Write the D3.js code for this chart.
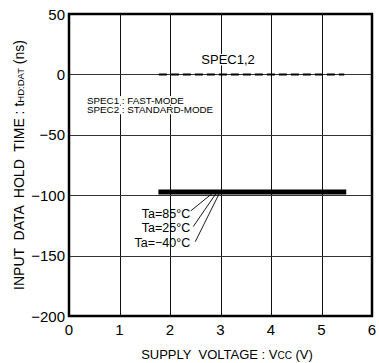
<!DOCTYPE html>
<html>
<head>
<meta charset="utf-8">
<script src="https://cdn.jsdelivr.net/npm/d3@7"></script>
<style>
  body { margin: 0; background: #fff; }
  text { font-family: "Liberation Sans", Arial, sans-serif; fill: #000; }
</style>
</head>
<body>
<svg width="379" height="363"></svg>
<script>
// data
const xTicks = [0, 1, 2, 3, 4, 5, 6];
const yTicks = [50, 0, -50, -100, -150, -200];
const specX = [1.78, 5.45];
const specY = [0, 0];
const holdX = [1.77, 5.49];
const holdY = [-97.4, -97.4];
const tempLabels = ['Ta=85°C', 'Ta=25°C', 'Ta=−40°C'];
const tempLabelY = [-118.5, -130.8, -143.2];
const leaderFrom = [[2.41, -113], [2.46, -126], [2.5, -138.5]];
const leaderTo = [[2.87, -97.4], [2.93, -97.4], [2.99, -97.4]];

const svg = d3.select('svg');
const m = {left: 69, right: 372, top: 14, bottom: 316};

const x = d3.scaleLinear().domain([0, 6]).range([m.left, m.right]);
const y = d3.scaleLinear().domain([-200, 50]).range([m.bottom, m.top]);

// grid
svg.append('g').selectAll('line').data(xTicks.slice(1, -1))
  .enter().append('line')
    .attr('x1', d => Math.round(x(d)) + 0.5).attr('x2', d => Math.round(x(d)) + 0.5)
    .attr('y1', m.top).attr('y2', m.bottom)
    .attr('stroke', '#111').attr('stroke-width', 1);
svg.append('g').selectAll('line').data(yTicks.slice(1, -1))
  .enter().append('line')
    .attr('y1', d => Math.round(y(d)) + 0.5).attr('y2', d => Math.round(y(d)) + 0.5)
    .attr('x1', m.left).attr('x2', m.right)
    .attr('stroke', '#333').attr('stroke-width', 1);

// frame
svg.append('rect')
  .attr('x', m.left).attr('y', m.top)
  .attr('width', m.right - m.left).attr('height', m.bottom - m.top)
  .attr('fill', 'none').attr('stroke', '#000').attr('stroke-width', 2.5);

// tick labels
svg.append('g').selectAll('text').data(yTicks)
  .enter().append('text')
    .attr('x', m.left - 4).attr('y', d => y(d) + 5.5)
    .attr('text-anchor', 'end').attr('font-size', 15)
    .text(d => d < 0 ? '−' + Math.abs(d) : d);
svg.append('g').selectAll('text').data(xTicks)
  .enter().append('text')
    .attr('x', d => x(d)).attr('y', 335)
    .attr('text-anchor', 'middle').attr('font-size', 15)
    .text(d => d);

// axis titles
const xt = svg.append('text')
  .attr('x', 227).attr('y', 359)
  .attr('text-anchor', 'middle').attr('font-size', 13)
  .attr('xml:space', 'preserve');
xt.append('tspan').text('SUPPLY  VOLTAGE : V');
xt.append('tspan').attr('font-size', 10).text('CC');
xt.append('tspan').text(' (V)');

const yt = svg.append('text')
  .attr('transform', `translate(24,${(m.top + m.bottom) / 2}) rotate(-90)`)
  .attr('text-anchor', 'middle').attr('font-size', 14)
  .attr('xml:space', 'preserve');
yt.append('tspan').text('INPUT  DATA  HOLD  TIME : t');
yt.append('tspan').attr('font-size', 9.5).text('HD:DAT');
yt.append('tspan').text(' (ns)');

// text with a white box behind it (box covers the glyph band only)
const label = (tx, ty, str, size, anchor) => {
  const t = svg.append('text')
    .attr('x', tx).attr('y', ty)
    .attr('font-size', size).attr('text-anchor', anchor || 'start')
    .text(str);
  const b = t.node().getBBox();
  svg.insert('rect', () => t.node())
    .attr('x', b.x - 1).attr('y', ty - size * 0.78)
    .attr('width', b.width + 2).attr('height', size * 0.88)
    .attr('fill', '#fff');
  return t;
};

label(x(3.15), y(8.5), 'SPEC1,2', 13, 'middle');
label(87, y(-24.3), 'SPEC1 : FAST-MODE', 9.8);
label(87, y(-32.2), 'SPEC2 : STANDARD-MODE', 9.8);

// spec line
const line = d3.line().x(d => x(d[0])).y(d => y(d[1]));
svg.append('path')
  .attr('d', line(d3.zip(specX, specY)))
  .attr('fill', 'none').attr('stroke', '#000')
  .attr('stroke-width', 2).attr('stroke-dasharray', '8,4');

// hold time line
svg.append('path')
  .attr('d', line(d3.zip(holdX, holdY)))
  .attr('fill', 'none').attr('stroke', '#000')
  .attr('stroke-width', 5);

// temperature labels + leaders
tempLabels.forEach((s, i) => {
  svg.append('text')
    .attr('x', x(2.4)).attr('y', y(tempLabelY[i]))
    .attr('text-anchor', 'end').attr('font-size', 12.5)
    .text(s);
  svg.append('path')
    .attr('d', line([leaderFrom[i], leaderTo[i]]))
    .attr('stroke', '#000').attr('stroke-width', 0.9);
});
</script>
</body>
</html>
